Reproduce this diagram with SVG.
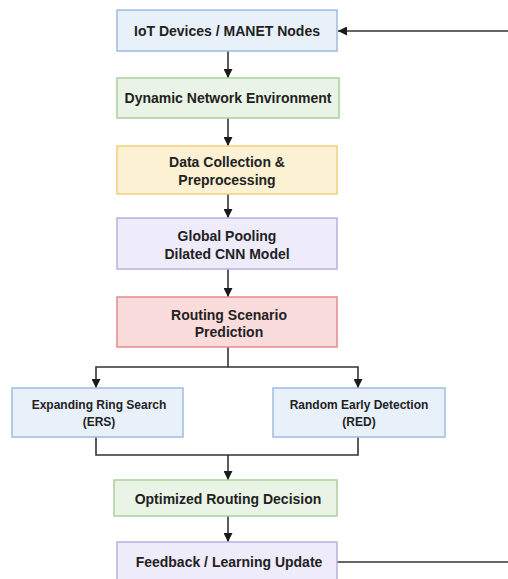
<svg xmlns="http://www.w3.org/2000/svg" width="508" height="579" viewBox="0 0 508 579">
<defs>
<marker id="arr" viewBox="0 0 10 10" refX="10" refY="5" markerWidth="9" markerHeight="9" markerUnits="userSpaceOnUse" orient="auto">
<path d="M0,0 L10,5 L0,10 z" fill="#1a1a1a"/>
</marker>
<style>
text{font-family:"Liberation Sans",Arial,sans-serif;font-weight:bold;font-size:14px;fill:#222;text-anchor:middle;dominant-baseline:central}
.sm{font-size:12px}
.blue{fill:#e8f0fa;stroke:#9fbbdf;stroke-width:1.5}
.green{fill:#eaf4e6;stroke:#abd09d;stroke-width:1.5}
.yellow{fill:#fdf1d3;stroke:#f1d07c;stroke-width:1.5}
.purple{fill:#eeebfb;stroke:#b9b0e0;stroke-width:1.5}
.red{fill:#fbdcdc;stroke:#e58c8c;stroke-width:1.5}
.c{fill:none;stroke:#333;stroke-width:1.6}
.a{marker-end:url(#arr)}
</style>
</defs>
<rect width="508" height="579" fill="#ffffff"/>
<g id="connectors">
<line class="c a" x1="228" y1="51" x2="228" y2="78"/>
<line class="c a" x1="228" y1="118" x2="228" y2="146"/>
<line class="c a" x1="228" y1="194" x2="228" y2="218"/>
<line class="c a" x1="228" y1="269" x2="228" y2="297"/>
<polyline class="c" points="228,347 228,367"/>
<polyline class="c a" points="228,367 96,367 96,388"/>
<polyline class="c a" points="228,367 358,367 358,388"/>
<polyline class="c" points="96,437 96,455 358,455 358,437"/>
<line class="c a" x1="228" y1="455" x2="228" y2="480"/>
<line class="c a" x1="228" y1="516" x2="228" y2="542"/>
<line class="c" x1="337" y1="562" x2="508" y2="562"/>
<line class="c a" x1="508" y1="31" x2="338" y2="31"/>
</g>
<g id="n1"><rect class="blue" x="117" y="10" width="220" height="41"/><text x="227" y="31">IoT Devices / MANET Nodes</text></g>
<g id="n2"><rect class="green" x="117" y="78" width="222" height="40"/><text x="228" y="98">Dynamic Network Environment</text></g>
<g id="n3"><rect class="yellow" x="117" y="146" width="220" height="48"/><text x="227" y="162">Data Collection &amp;</text><text x="227" y="180">Preprocessing</text></g>
<g id="n4"><rect class="purple" x="117" y="218" width="220" height="51"/><text x="227" y="236">Global Pooling</text><text x="227" y="254">Dilated CNN Model</text></g>
<g id="n5"><rect class="red" x="117" y="297" width="220" height="50"/><text x="229" y="315">Routing Scenario</text><text x="229" y="332">Prediction</text></g>
<g id="n6"><rect class="blue" x="12" y="388" width="171" height="49"/><text class="sm" x="99" y="405">Expanding Ring Search</text><text class="sm" x="99" y="422">(ERS)</text></g>
<g id="n7"><rect class="blue" x="273" y="388" width="172" height="49"/><text class="sm" x="359" y="405">Random Early Detection</text><text class="sm" x="359" y="422">(RED)</text></g>
<g id="n8"><rect class="green" x="114" y="480" width="223" height="36"/><text x="228" y="499">Optimized Routing Decision</text></g>
<g id="n9"><rect class="purple" x="117" y="542" width="220" height="42"/><text x="229" y="562">Feedback / Learning Update</text></g>
</svg>
